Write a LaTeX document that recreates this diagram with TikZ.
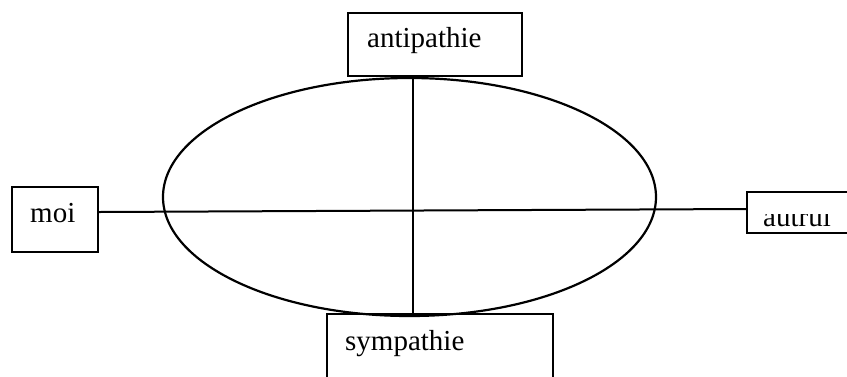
\documentclass[tikz,border=0pt]{standalone}
\usepackage{fontspec}
\setmainfont{Liberation Serif}
\begin{document}
\begin{tikzpicture}[x=1pt,y=-1pt,
  box/.style={draw=black,line width=2.2pt,rectangle,inner sep=0pt},
  lbl/.style={anchor=base west,inner sep=0pt,font=\fontsize{29}{30}\selectfont},
  axis/.style={draw=black,line width=2pt}]
\useasboundingbox (0,0) rectangle (847,376);
\clip (0,0) rectangle (847,376);
% central ellipse
\draw[line width=2.2pt] (409.5,197) ellipse [x radius=246.5, y radius=119];
% boxes
\node[box,minimum width=174pt,minimum height=63pt] (anti) at (435,44.5) {};
\node[box,minimum width=86pt,minimum height=65pt] (moi) at (55,219.5) {};
\node[box,minimum width=123pt,minimum height=41pt] (autrui) at (808.5,212.5) {};
\node[box,minimum width=226pt,minimum height=86pt] (sym) at (440,357) {};
% labels
\node[lbl] (tanti) at (367,47) {antipathie};
\node[lbl] (tmoi) at (30,222) {moi};
\node[lbl] (tsym) at (345,350) {sympathie};
\begin{scope}
  \clip (747,214.5) rectangle (847,240);
  \node[lbl] (tautrui) at (763,226.5) {autrui};
\end{scope}
% axes
\draw[axis] ([yshift=7.5pt]moi.east) -- ([yshift=3.5pt]autrui.west);
\draw[axis] ([xshift=-22pt]anti.south) -- ([xshift=-27pt]sym.north);
\end{tikzpicture}
\end{document}
